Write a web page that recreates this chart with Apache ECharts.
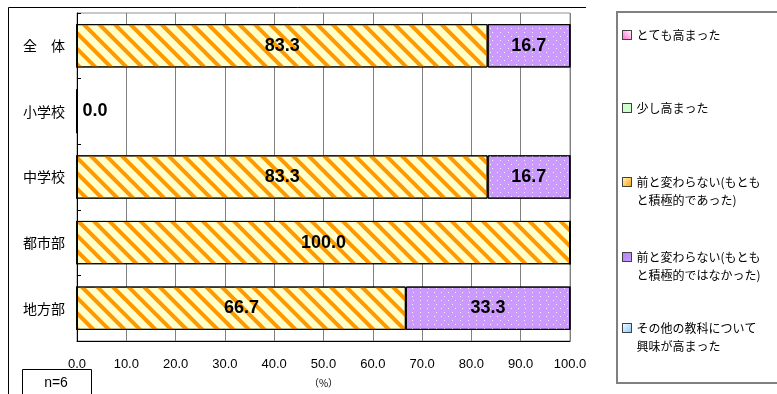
<!DOCTYPE html>
<html><head><meta charset="utf-8">
<script src="https://cdn.jsdelivr.net/npm/echarts@6/dist/echarts.min.js"></script>
<style>html,body{margin:0;padding:0;background:#fff}#c{width:777px;height:394px}</style>
</head><body><div id="c"></div>
<script>
const categories = ['全　体', '小学校', '中学校', '都市部', '地方部'];
const seriesNames = ['とても高まった', '少し高まった', '前と変わらない(もともと積極的であった)', '前と変わらない(もともと積極的ではなかった)', 'その他の教科について興味が高まった'];
const legendLabels = ['とても高まった', '少し高まった', '前と変わらない(もとも\nと積極的であった)', '前と変わらない(もとも\nと積極的ではなかった)', 'その他の教科について\n興味が高まった'];
const veryHigh = [0, 0, 0, 0, 0];
const slightlyHigh = [0, 0, 0, 0, 0];
const sameActive = [83.3, 0, 83.3, 100, 66.7];
const sameInactive = [16.7, 0, 16.7, 0, 33.3];
const otherSubjects = [0, 0, 0, 0, 0];
const xMin = 0, xMax = 100, xStep = 10;
const axisUnit = '（%）';
const sampleNote = 'n=6';

const values = [veryHigh, slightlyHigh, sameActive, sameInactive, otherSubjects];
const baseColors = ['#FF99CC', '#CCFFCC', '#FFFFCC', '#CC99FF', '#99CCFF'];
const decals = [
  null, null,
  { symbol: 'rect', color: '#FF9900', dashArrayX: [1, 0], dashArrayY: [4, 7], rotation: Math.PI / 4, symbolSize: 1 },
  { symbol: 'rect', color: 'rgba(255,255,255,0.85)', dashArrayX: [[1, 6], [0, 3.5, 1, 2.5]], dashArrayY: [1, 3], symbolSize: 1 },
  null
];
const legendIconColors = [
  { type: 'linear', x: 0, y: 1, x2: 1, y2: 0, colorStops: [{ offset: 0, color: '#FF66CC' }, { offset: 1, color: '#FFFFFF' }] },
  { type: 'linear', x: 0, y: 0, x2: 1, y2: 1, colorStops: [{ offset: 0, color: '#CCFFCC' }, { offset: 1, color: '#CCFFCC' }] },
  { type: 'linear', x: 0, y: 0, x2: 1, y2: 1, colorStops: [{ offset: 0, color: '#FFFFCC' }, { offset: 1, color: '#FF9900' }] },
  { type: 'linear', x: 0, y: 0, x2: 1, y2: 1, colorStops: [{ offset: 0, color: '#B080F0' }, { offset: 1, color: '#C8A0FF' }] },
  { type: 'linear', x: 0, y: 0, x2: 1, y2: 1, colorStops: [{ offset: 0, color: '#FFFFFF' }, { offset: 1, color: '#80C8FF' }] }
];
const legendTops = [26, 99, 155, 230, 301];

const series = values.map((vals, i) => ({
  name: seriesNames[i],
  type: 'bar',
  stack: 'total',
  barCategoryGap: '34%',
  data: vals.map((v, j) => {
    const item = { value: v };
    if (i === 0 && values.every(s => s[j] === 0)) {
      item.label = { show: true, position: 'right', distance: 5, formatter: () => v.toFixed(1) };
    }
    return item;
  }),
  itemStyle: { color: baseColors[i], borderColor: '#000', borderWidth: 1, decal: decals[i] || undefined },
  label: {
    show: true, position: 'inside', color: '#000', fontFamily: 'Liberation Sans, Arial', fontWeight: 'bold', fontSize: 18,
    formatter: p => (p.value > 0 ? p.value.toFixed(1) : '')
  },
  emphasis: { disabled: true }
}));

const legends = seriesNames.map((n, i) => ({
  left: 622, top: legendTops[i], padding: 0, orient: 'vertical', selectedMode: false,
  itemWidth: 9, itemHeight: 9, itemGap: 5,
  icon: 'rect',
  data: [{ name: n, itemStyle: { color: legendIconColors[i], borderColor: '#404040', borderWidth: 1, decal: { color: 'rgba(0,0,0,0)' } } }],
  formatter: () => (legendLabels[i].indexOf('\n') >= 0 ? '\n' + legendLabels[i] : legendLabels[i]),
  textStyle: { fontSize: 12, fontFamily: 'Noto Sans CJK JP', color: '#000', lineHeight: 18 }
}));

const chart = echarts.init(document.getElementById('c'), null, { renderer: 'canvas' });
chart.setOption({
  animation: false,
  backgroundColor: '#fff',
  grid: { left: 77, right: 207, top: 13, bottom: 53, show: true, borderColor: '#909090', borderWidth: 1 },
  xAxis: {
    type: 'value', min: xMin, max: xMax, interval: xStep,
    name: axisUnit, nameLocation: 'middle', nameGap: 37,
    nameTextStyle: { fontSize: 10, color: '#000', fontFamily: 'Noto Sans CJK JP' },
    axisLine: { show: true, lineStyle: { color: '#000', width: 1 } },
    axisTick: { show: false },
    splitLine: { show: true, lineStyle: { color: '#808080', width: 1 } },
    axisLabel: { margin: 17, fontSize: 13, color: '#000', fontFamily: 'Liberation Sans, Arial', formatter: v => v.toFixed(1) }
  },
  yAxis: {
    type: 'category', data: categories, inverse: true,
    axisLine: { show: true, lineStyle: { color: '#000' } },
    axisTick: { show: true, inside: true, length: 4, lineStyle: { color: '#000' } },
    axisLabel: { margin: 12, fontSize: 14, color: '#000', fontFamily: 'Noto Sans CJK JP' }
  },
  legend: legends,
  series: series,
  graphic: [
    { type: 'polyline', shape: { points: [[8.5, 400], [8.5, 7.5], [586, 7.5]] }, style: { stroke: '#000', lineWidth: 1, fill: null }, silent: true },
    { type: 'rect', shape: { x: 617, y: 12, width: 170, height: 371 }, style: { stroke: '#808080', lineWidth: 2, fill: '#fff' }, z: -1, silent: true },
    { type: 'rect', shape: { x: 22.5, y: 369.5, width: 69, height: 30 }, style: { stroke: '#000', lineWidth: 1, fill: '#fff' }, silent: true },
    { type: 'text', x: 56, y: 383, style: { text: sampleNote, fontSize: 14, fontFamily: 'Liberation Sans, Arial', fill: '#000', align: 'center', verticalAlign: 'middle' }, silent: true }
  ]
});
</script></body></html>
